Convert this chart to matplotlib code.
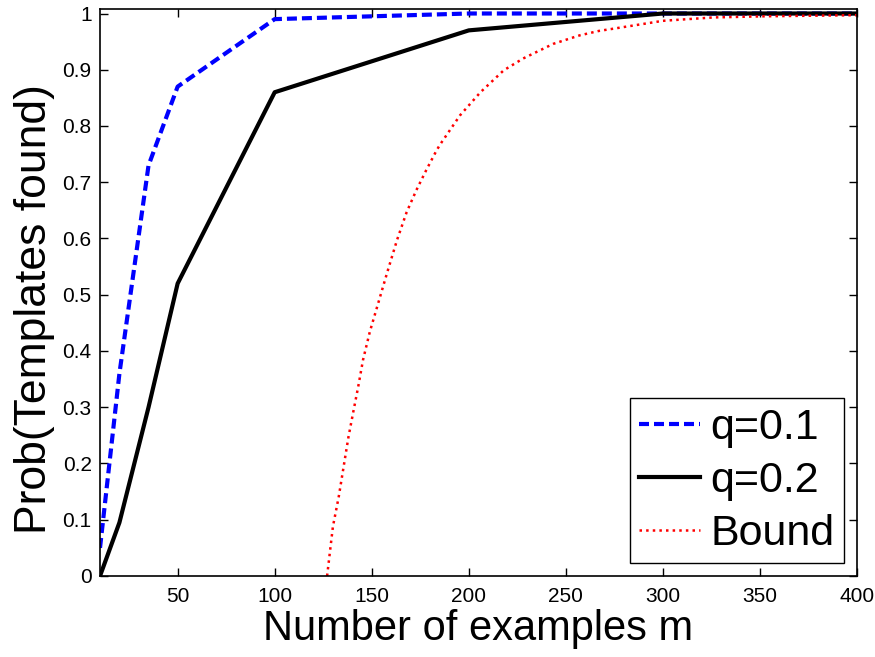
import matplotlib
matplotlib.use("Agg")
import matplotlib.pyplot as plt

plt.rcParams['font.family'] = ['Liberation Sans', 'DejaVu Sans']

# Data
m_values = [10, 20, 35, 50, 100, 200, 300, 400]
prob_q01 = [0.05, 0.36, 0.73, 0.87, 0.99, 1.0, 1.0, 1.0]
prob_q02 = [0.0, 0.095, 0.30, 0.52, 0.86, 0.97, 1.0, 1.0]

bound_m = [127, 130, 133, 135.5, 138, 140.5, 143, 145.5, 149, 153.5, 158, 163, 168,
           173, 178, 183, 185, 195.5, 206, 218, 228, 243.5, 257, 267, 274.5, 300,
           326, 352, 375, 400]
bound_p = [0.0, 0.088, 0.141, 0.194, 0.247, 0.292, 0.336, 0.384, 0.434, 0.487, 0.540,
           0.597, 0.647, 0.686, 0.721, 0.754, 0.766, 0.819, 0.860, 0.899, 0.920, 0.946,
           0.961, 0.969, 0.973, 0.987, 0.993, 0.995, 0.996, 0.997]

xticks = [50, 100, 150, 200, 250, 300, 350, 400]
yticks = [0, 0.1, 0.2, 0.3, 0.4, 0.5, 0.6, 0.7, 0.8, 0.9, 1]
ytick_labels = ["0", "0.1", "0.2", "0.3", "0.4", "0.5", "0.6", "0.7", "0.8", "0.9", "1"]

fig = plt.figure(figsize=(8.75, 6.57), dpi=100)
ax = fig.add_axes([0.1143, 0.1233, 0.8651, 0.863])

ax.plot(m_values, prob_q01, color="blue", linestyle="--", dashes=(2.4, 1.2),
        linewidth=3, label="q=0.1")
ax.plot(m_values, prob_q02, color="black", linestyle="-", linewidth=3, label="q=0.2")
ax.plot(bound_m, bound_p, color="red", linestyle=":", linewidth=1.8, label="Bound")

ax.set_xlim(10, 400)
ax.set_ylim(0, 1.008)
ax.set_xticks(xticks)
ax.set_xticklabels([str(t) for t in xticks])
ax.set_yticks(yticks)
ax.set_yticklabels(ytick_labels)
ax.tick_params(direction="in", length=5.5, width=1, labelsize=15,
               top=True, right=True, pad=6)
ax.tick_params(axis="x", pad=8)
for spine in ax.spines.values():
    spine.set_linewidth(1.2)

ax.set_xlabel("Number of examples m", fontsize=30, labelpad=2)
ax.set_ylabel("Prob(Templates found)", fontsize=32)
ax.yaxis.set_label_coords(-0.06, 0.47)

leg = ax.legend(loc="lower right", fontsize=31, fancybox=False, framealpha=1,
                edgecolor="black", handlelength=1.4, handletextpad=0.25,
                labelspacing=0.3, borderpad=0.22, borderaxespad=0.3)
leg.get_frame().set_linewidth(1)

fig.savefig("out.png", dpi=100)
